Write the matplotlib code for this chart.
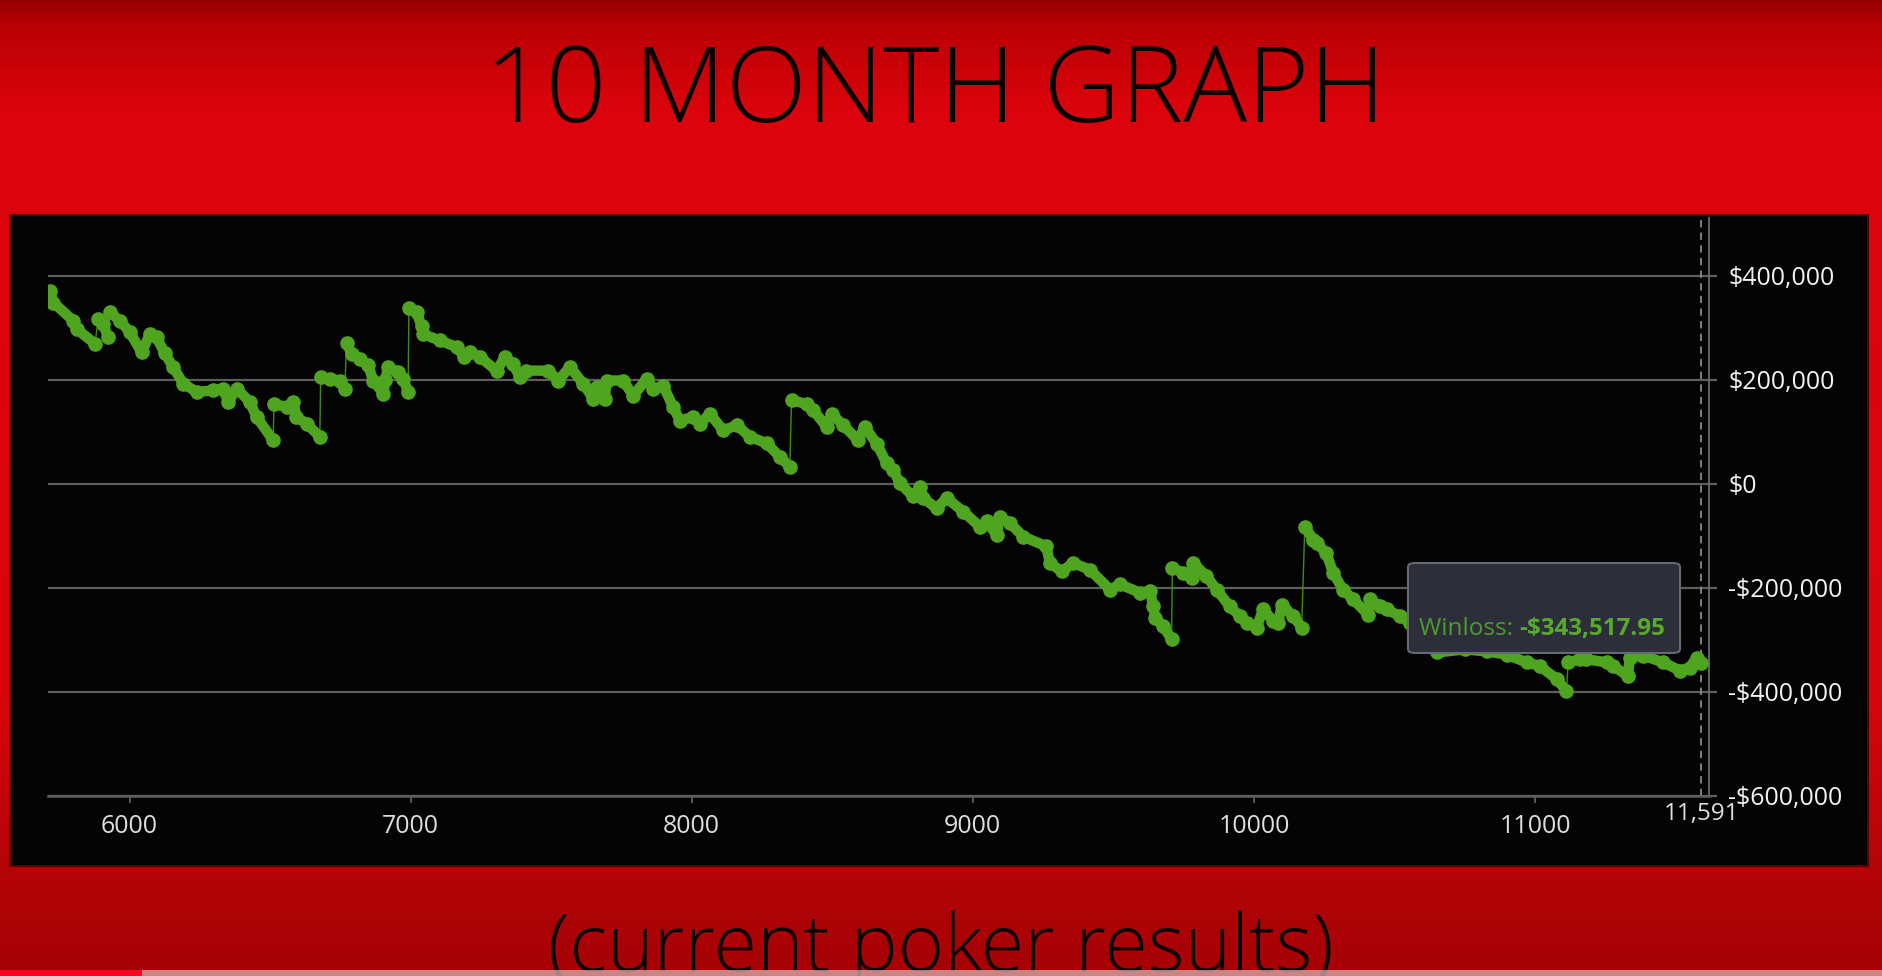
import matplotlib.pyplot as plt
import numpy as np
from matplotlib.patches import FancyBboxPatch, Rectangle
from matplotlib.text import Annotation

W, H = 1882, 976

# hand number / cumulative winloss (thousands of $)
hands = [5717, 5729, 5800, 5812, 5877, 5889, 5906, 5924, 5930, 5966,
         6001, 6043, 6073, 6096, 6126, 6155, 6191, 6239, 6298, 6333,
         6351, 6381, 6428, 6452, 6511, 6514, 6559, 6582, 6594, 6630,
         6677, 6680, 6713, 6748, 6766, 6772, 6790, 6820, 6849, 6867,
         6903, 6910, 6920, 6956, 6974, 6991, 6994, 7021, 7039, 7045,
         7104, 7164, 7190, 7211, 7247, 7306, 7335, 7365, 7389, 7412,
         7490, 7525, 7567, 7614, 7650, 7662, 7691, 7697, 7756, 7792,
         7840, 7863, 7899, 7934, 7958, 8005, 8029, 8065, 8112, 8160,
         8207, 8267, 8314, 8349, 8355, 8409, 8432, 8480, 8498, 8539,
         8592, 8616, 8660, 8693, 8717, 8741, 8788, 8812, 8824, 8871,
         8907, 8966, 9025, 9049, 9085, 9096, 9132, 9179, 9262, 9274,
         9316, 9357, 9417, 9488, 9524, 9594, 9630, 9642, 9648, 9677,
         9707, 9710, 9748, 9778, 9784, 9831, 9867, 9914, 9950, 9974,
         10010, 10033, 10069, 10087, 10099, 10140, 10170, 10181, 10211, 10223,
         10258, 10282, 10317, 10353, 10406, 10413, 10448, 10472, 10519, 10555,
         10600, 10650, 10750, 10830, 10899, 10970, 11017, 11077, 11112, 11118,
         11160, 11183, 11255, 11278, 11331, 11337, 11385, 11456, 11516, 11551,
         11575, 11591]
winloss = [371, 349, 314, 298, 270, 318, 308, 282, 330, 314,
           292, 253, 289, 282, 251, 225, 193, 177, 180, 183,
           158, 183, 158, 129, 84, 154, 148, 158, 129, 116,
           91, 205, 202, 199, 183, 272, 250, 241, 228, 199,
           174, 200, 225, 215, 202, 177, 339, 330, 304, 288,
           276, 263, 245, 253, 244, 218, 244, 231, 205, 218,
           218, 199, 225, 193, 164, 186, 164, 199, 199, 170,
           202, 183, 189, 148, 122, 129, 116, 135, 103, 113,
           91, 78, 52, 33, 161, 154, 142, 110, 135, 113,
           84, 110, 76, 40, 27, 1, -24, -5, -27, -47,
           -27, -53, -82, -72, -98, -63, -75, -101, -120, -152,
           -168, -152, -165, -203, -193, -209, -206, -235, -257, -273,
           -299, -161, -171, -181, -152, -177, -203, -235, -254, -267,
           -276, -241, -264, -267, -232, -254, -276, -82, -107, -114,
           -133, -171, -203, -222, -251, -222, -235, -241, -254, -267,
           -290, -324, -318, -322, -328, -343, -350, -375, -398, -343,
           -337, -337, -343, -350, -369, -334, -330, -343, -359, -353,
           -334, -343.51795]

grid_values = [-600000, -400000, -200000, 0, 200000, 400000]
x_ticks = [6000, 7000, 8000, 9000, 10000, 11000]
last_hand = 11591
tooltip_label = "Winloss: "
tooltip_value = "-$343,517.95"

green = '#4fa520'
text_font = ['Open Sans', 'DejaVu Sans']


def money(v):
    v = int(round(v))
    if v < 0:
        return "-${:,}".format(-v)
    return "${:,}".format(v)


def px(x0, y0, x1, y1):
    # pixel box (top-left origin) -> figure fraction rect
    return [x0 / W, 1 - y1 / H, (x1 - x0) / W, (y1 - y0) / H]


fig = plt.figure(figsize=(W / 100, H / 100), dpi=100)

# red slide background
rows = np.arange(H)
stops_y = [0, 25, 110, 700, 866, 976]
r = np.interp(rows, stops_y, [150, 185, 220, 215, 180, 165])
g = np.interp(rows, stops_y, [0, 0, 4, 6, 4, 2])
b = np.interp(rows, stops_y, [2, 4, 12, 12, 8, 6])
grad = np.stack([r, g, b], axis=1)[:, None, :].repeat(2, axis=1) / 255.0
bg = fig.add_axes([0, 0, 1, 1])
bg.imshow(grad, aspect='auto', extent=[0, 1, 0, 1], interpolation='bilinear')
bg.set_xlim(0, 1)
bg.set_ylim(0, 1)
bg.axis('off')

# black chart panel
panel = fig.add_axes(px(10, 215, 1868, 866))
panel.set_facecolor('#040404')
panel.set_xticks([])
panel.set_yticks([])
for s in panel.spines.values():
    s.set_edgecolor('#5a0000')
    s.set_linewidth(1.5)

ax = fig.add_axes(px(48, 218, 1709, 796))
ax.set_facecolor('none')

hands_arr = np.array(hands)
wl = np.array(winloss) * 1000

# thin line through everything (shows the jumps)
ax.plot(hands_arr, wl, color='#3f8a1c', lw=1.0, zorder=3)
# thick marker-runs between jumps
jumps = np.where(np.diff(winloss) > 40)[0] + 1
starts = [0] + list(jumps)
ends = list(jumps) + [len(hands)]
for s, e in zip(starts, ends):
    ax.plot(hands_arr[s:e], wl[s:e], color=green, lw=7.5, marker='o', ms=9.5,
            solid_capstyle='round', solid_joinstyle='round', zorder=4)

ax.set_xlim(5710, 11619)
ax.set_ylim(-600000, 511500)

ax.set_yticks(grid_values)
ax.set_yticklabels([money(v) for v in grid_values])
ax.yaxis.tick_right()
ax.yaxis.grid(True, color='#5e5e5e', lw=1.6, zorder=1)
ax.tick_params(axis='y', colors='#5e5e5e', length=6, width=1.6, pad=8,
               labelcolor='#f2f2f2', labelsize=18)
for lab in ax.get_yticklabels():
    lab.set_family(text_font)
    lab.set_ha('left')

ax.set_xticks(x_ticks)
ax.set_xticklabels([str(v) for v in x_ticks])
ax.tick_params(axis='x', colors='#666666', length=5, width=1.2, pad=8,
               labelcolor='#dedede', labelsize=18)
for lab in ax.get_xticklabels():
    lab.set_family(text_font)

for side in ['top', 'left']:
    ax.spines[side].set_visible(False)
ax.spines['right'].set_color('#6a6a6a')
ax.spines['right'].set_linewidth(1.3)
ax.spines['bottom'].set_color('#5e5e5e')
ax.spines['bottom'].set_linewidth(1.8)

# crosshair at the last hand
ax.axvline(last_hand, color='#8a8a8a', lw=1.3, ls=(0, (4, 3)), zorder=2)
ax.text(last_hand, -0.031, "{:,}".format(last_hand), transform=ax.get_xaxis_transform(),
        ha='center', va='center', color='#dedede', fontsize=17.5, family=text_font,
        clip_on=False)

# tooltip
tip = FancyBboxPatch((1408 / W, 1 - 653 / H), (1680 - 1408) / W, (653 - 563) / H,
                     boxstyle='round,pad=0,rounding_size=0.004', transform=fig.transFigure,
                     facecolor='#2c2f39', edgecolor='#676a72', lw=1.5, zorder=10)
fig.patches.append(tip)
t1 = fig.text(1419 / W, 1 - 635 / H, tooltip_label, color='#4f9a2c', fontsize=17.5,
              family=text_font, ha='left', va='baseline', zorder=11)
t2 = Annotation(tooltip_value, xy=(1, 0), xycoords=t1, ha='left', va='bottom',
                color='#58aa2e', fontsize=17.5, family=text_font, weight='bold',
                annotation_clip=False, zorder=11)
fig.add_artist(t2)

# slide texts
fig.text(0.497, 1 - 122 / H, "10 MONTH GRAPH", ha='center', va='baseline',
         fontsize=76.5, color='#0a0000', family=text_font, weight='light')
fig.text(0.5, 1 - 971 / H, "(current poker results)", ha='center', va='baseline',
         fontsize=57, color='#0a0000', family=text_font, weight='light')

# video progress bar along the bottom edge
fig.patches.append(Rectangle((0, 0), 1, 6 / H, transform=fig.transFigure,
                             facecolor='#d8b0b0', alpha=0.75, lw=0, zorder=20))
fig.patches.append(Rectangle((0, 0), 142 / W, 6 / H, transform=fig.transFigure,
                             facecolor='#ff0022', lw=0, zorder=21))

fig.savefig('out.png', dpi=100)
